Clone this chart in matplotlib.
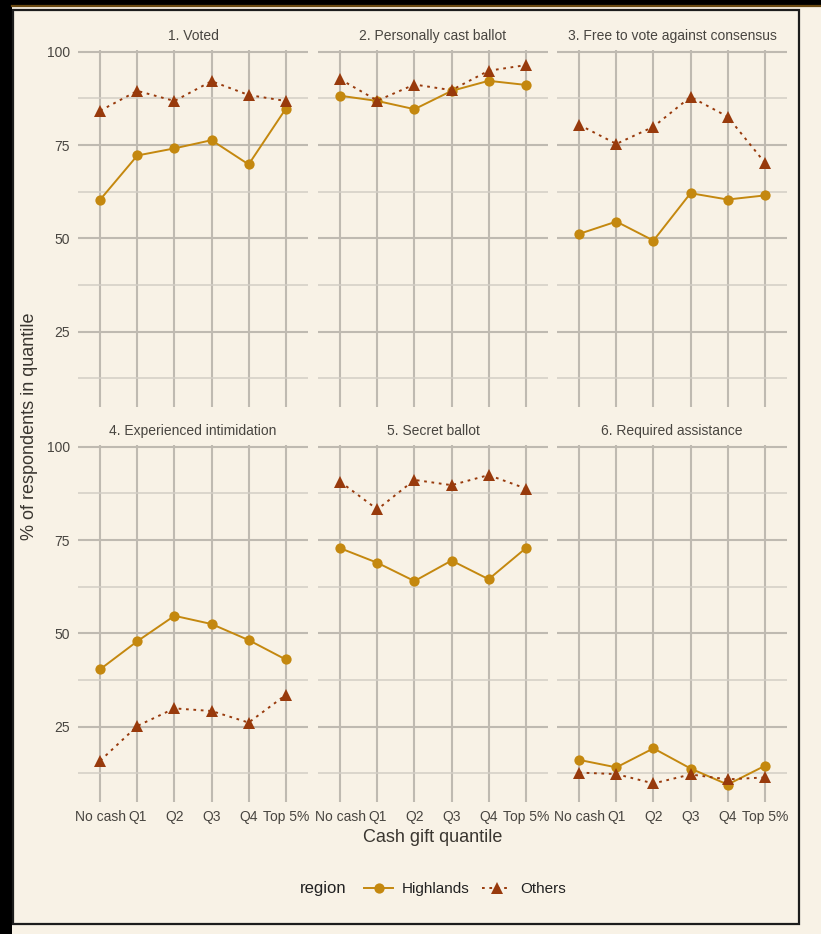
import matplotlib
matplotlib.use("Agg")
import matplotlib.pyplot as plt
from matplotlib.lines import Line2D
from matplotlib.patches import Rectangle
from matplotlib.ticker import FixedLocator

plt.rcParams["font.family"] = ["Liberation Sans", "DejaVu Sans"]

# ---- data -------------------------------------------------------------
quantiles = ["No cash", "Q1", "Q2", "Q3", "Q4", "Top 5%"]
panel_titles = [
    "1. Voted",
    "2. Personally cast ballot",
    "3. Free to vote against consensus",
    "4. Experienced intimidation",
    "5. Secret ballot",
    "6. Required assistance",
]
regions = ["Highlands", "Others"]

voted_highlands = [60.4, 72.2, 74.1, 76.3, 69.8, 84.7]
voted_others = [84.2, 89.5, 86.8, 92.1, 88.4, 86.8]

cast_highlands = [88.2, 86.8, 84.6, 89.5, 92.2, 91.1]
cast_others = [92.6, 86.9, 91.2, 89.7, 94.9, 96.4]

free_highlands = [51.2, 54.5, 49.4, 62.1, 60.4, 61.5]
free_others = [80.4, 75.3, 79.9, 87.9, 82.6, 70.3]

intim_highlands = [40.4, 47.9, 54.7, 52.5, 48.2, 43.0]
intim_others = [15.9, 25.2, 29.9, 29.2, 26.1, 33.5]

secret_highlands = [72.8, 68.9, 64.0, 69.5, 64.5, 72.8]
secret_others = [90.6, 83.2, 91.1, 89.7, 92.4, 88.8]

assist_highlands = [16.1, 14.1, 19.2, 13.8, 9.5, 14.5]
assist_others = [12.7, 12.3, 9.8, 12.2, 10.9, 11.4]

highlands_series = [voted_highlands, cast_highlands, free_highlands,
                    intim_highlands, secret_highlands, assist_highlands]
others_series = [voted_others, cast_others, free_others,
                 intim_others, secret_others, assist_others]

# ---- styling ------------------------------------------------------------
W, H, DPI = 821, 934, 100
BG = "#F8F2E6"
C_HIGH = "#C4880F"
C_OTH = "#983A0C"
GRID_MAJOR = "#BFBAB1"
GRID_MINOR = "#D3CEC5"
TXT = "#484540"

fig = plt.figure(figsize=(W / DPI, H / DPI), dpi=DPI, facecolor=BG)


def fx(px):
    return px / W


def fy(py):
    return 1 - py / H


# outer frame decoration
fig.patches.append(Rectangle((0, 0), fx(12), 1, transform=fig.transFigure,
                             facecolor="black", edgecolor="none", zorder=0))
fig.patches.append(Rectangle((0, fy(5)), 1, fy(0) - fy(5), transform=fig.transFigure,
                             facecolor="black", edgecolor="none", zorder=0))
fig.add_artist(Line2D([fx(12), 1], [fy(6), fy(6)], transform=fig.transFigure,
                      color="#6B4A12", lw=1.6))
fig.patches.append(Rectangle((fx(12.5), fy(923.5)), fx(798.5) - fx(12.5),
                             fy(9.5) - fy(923.5), transform=fig.transFigure,
                             facecolor="none", edgecolor="#1C1C1C", lw=1.6, zorder=5))

col_left = [78, 318, 557]
panel_w = 230
row_top = [50.2, 445.2]
panel_h = 356.9

x_pos = list(range(len(quantiles)))

for i, title in enumerate(panel_titles):
    r, c = divmod(i, 3)
    left = fx(col_left[c])
    bottom = fy(row_top[r] + panel_h)
    ax = fig.add_axes([left, bottom, fx(panel_w), panel_h / H])
    ax.set_facecolor(BG)
    for s in ax.spines.values():
        s.set_visible(False)

    ax.plot(x_pos, highlands_series[i], color=C_HIGH, lw=1.4, marker="o",
            markersize=7.4, markeredgewidth=0, zorder=3, solid_capstyle="butt")
    ax.plot(x_pos, others_series[i], color=C_OTH, lw=1.4,
            linestyle=(0, (1.4, 2.4)), marker="^", markersize=8.4,
            markeredgewidth=0, zorder=3)

    ax.set_xlim(-0.6, len(quantiles) - 0.4)
    ax.set_ylim(4.8, 100.4)
    ax.yaxis.set_major_locator(FixedLocator([25, 50, 75, 100]))
    ax.yaxis.set_minor_locator(FixedLocator([12.5, 37.5, 62.5, 87.5]))
    ax.set_xticks(x_pos)
    ax.grid(True, which="major", color=GRID_MAJOR, lw=1.5, zorder=0)
    ax.grid(True, which="minor", axis="y", color=GRID_MINOR, lw=1.1, zorder=0)
    ax.set_axisbelow(True)
    ax.tick_params(which="both", length=0)
    ax.tick_params(axis="y", pad=6, labelsize=10, labelcolor=TXT)
    ax.tick_params(axis="x", pad=6, labelsize=10, labelcolor=TXT)

    if c == 0:
        ax.set_yticklabels(["25", "50", "75", "100"])
    else:
        ax.set_yticklabels([])
    if r == 1:
        ax.set_xticklabels(quantiles)
    else:
        ax.set_xticklabels([])

    ax.set_title(title, fontsize=10, color=TXT, pad=7)

# axis titles
fig.text(fx(433), fy(838), "Cash gift quantile", ha="center", va="center",
         fontsize=13, color="#3A3630")
fig.text(fx(30), fy(426), "% of respondents in quantile", ha="center", va="center",
         rotation=90, fontsize=13, color="#3A3630")

# legend
fig.text(fx(300), fy(889), "region", ha="left", va="center", fontsize=12,
         color="#222222")
handles = [
    Line2D([], [], color=C_HIGH, lw=1.4, marker="o", markersize=7.4,
           markeredgewidth=0),
    Line2D([], [], color=C_OTH, lw=1.4, linestyle=(0, (1.4, 2.4)), marker="^",
           markersize=8.4, markeredgewidth=0),
]
fig.legend(handles, regions, loc="center left",
           bbox_to_anchor=(fx(364), fy(889)), ncol=2, frameon=False,
           fontsize=11, handlelength=1.9, handletextpad=0.6,
           columnspacing=0.8, borderpad=0, borderaxespad=0,
           labelcolor="#222222")

fig.savefig("out.png", dpi=DPI, facecolor=BG)
